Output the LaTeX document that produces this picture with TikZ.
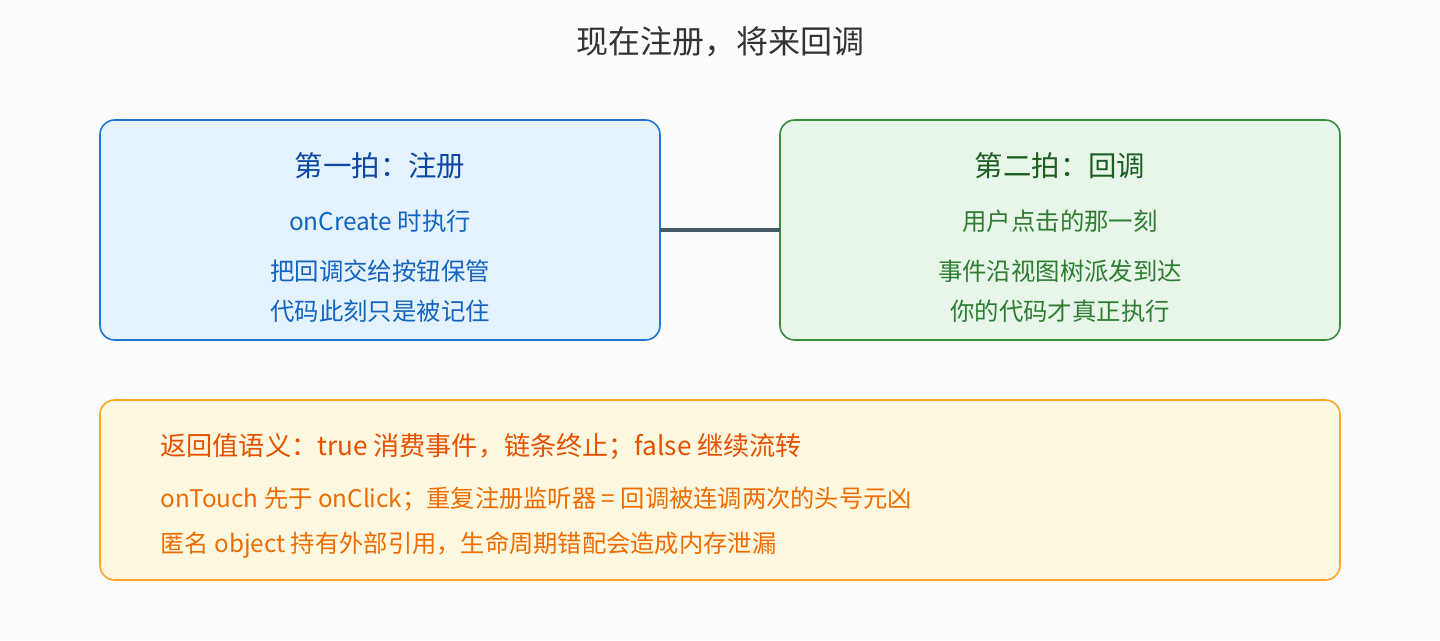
\documentclass[tikz,border=0pt]{standalone}
\usepackage{fontspec}
\setmainfont{Noto Sans CJK SC}
\definecolor{bgc}{HTML}{FCFCFC}
\definecolor{blueline}{HTML}{1E76D2}
\definecolor{bluefill}{HTML}{E3F2FD}
\definecolor{bluetitle}{HTML}{0D47A1}
\definecolor{bluetext}{HTML}{1565C0}
\definecolor{greenline}{HTML}{388E3C}
\definecolor{greenfill}{HTML}{E8F5E9}
\definecolor{greentitle}{HTML}{1B5E20}
\definecolor{greentext}{HTML}{2E7D32}
\definecolor{orangeline}{HTML}{F9A825}
\definecolor{orangefill}{HTML}{FFF8E1}
\definecolor{orangetitle}{HTML}{E65100}
\definecolor{orangetext}{HTML}{EF6C00}
\definecolor{linkc}{HTML}{455A64}
\tikzset{every picture/.style={line width=0.75pt}}
\tikzset{
  card/.style={rounded corners=11pt, line width=1.2pt},
  cardtitle/.style={font=\fontsize{21.3}{25}\selectfont, inner sep=0pt},
  cardtext/.style={font=\fontsize{18.3}{22}\selectfont, inner sep=0pt},
  notetext/.style={font=\fontsize{18.2}{22}\selectfont, inner sep=0pt, anchor=west, text=orangetext}
}
\begin{document}
\begin{tikzpicture}[x=0.75pt,y=0.75pt,yscale=-1,xscale=1]
% background
\fill [bgc] (0,0) rectangle (1440,640);
\useasboundingbox (0,0) rectangle (1440,640);

% Title
\node (title) at (720,42) [inner sep=0pt, text=black!80, font=\fontsize{24}{28}\selectfont] {现在注册，将来回调};

% Left card
\draw [card, draw=blueline, fill=bluefill] (100,120) rectangle (660,340);
\coordinate (leftedge) at (660,230);
\node (regtitle) at (380,166) [cardtitle, text=bluetitle] {第一拍：注册};
\node (regwhen) at (380,221) [cardtext, text=bluetext] {onCreate 时执行};
\node (reghand) at (380,271) [cardtext, text=bluetext] {把回调交给按钮保管};
\node (regkeep) at (380,311) [cardtext, text=bluetext] {代码此刻只是被记住};

% Right card
\draw [card, draw=greenline, fill=greenfill] (780,120) rectangle (1340,340);
\coordinate (rightedge) at (780,230);
\node (cbtitle) at (1060,166) [cardtitle, text=greentitle] {第二拍：回调};
\node (cbwhen) at (1060,221) [cardtext, text=greentext] {用户点击的那一刻};
\node (cbevent) at (1060,271) [cardtext, text=greentext] {事件沿视图树派发到达};
\node (cbrun) at (1060,311) [cardtext, text=greentext] {你的代码才真正执行};

% Link
\draw [linkc, line width=2.6pt] (leftedge) -- (rightedge);

% Note card
\draw [card, draw=orangeline, fill=orangefill] (100,400) rectangle (1340,580);
\node (noteret) at (160,447) [notetext, text=orangetitle, font=\fontsize{19.6}{23}\selectfont] {返回值语义：true 消费事件，链条终止；false 继续流转};
\node (notedup) at (160,499) [notetext] {onTouch 先于 onClick；重复注册监听器 = 回调被连调两次的头号元凶};
\node (noteleak) at (160,545) [notetext] {匿名 object 持有外部引用，生命周期错配会造成内存泄漏};
\end{tikzpicture}
\end{document}
